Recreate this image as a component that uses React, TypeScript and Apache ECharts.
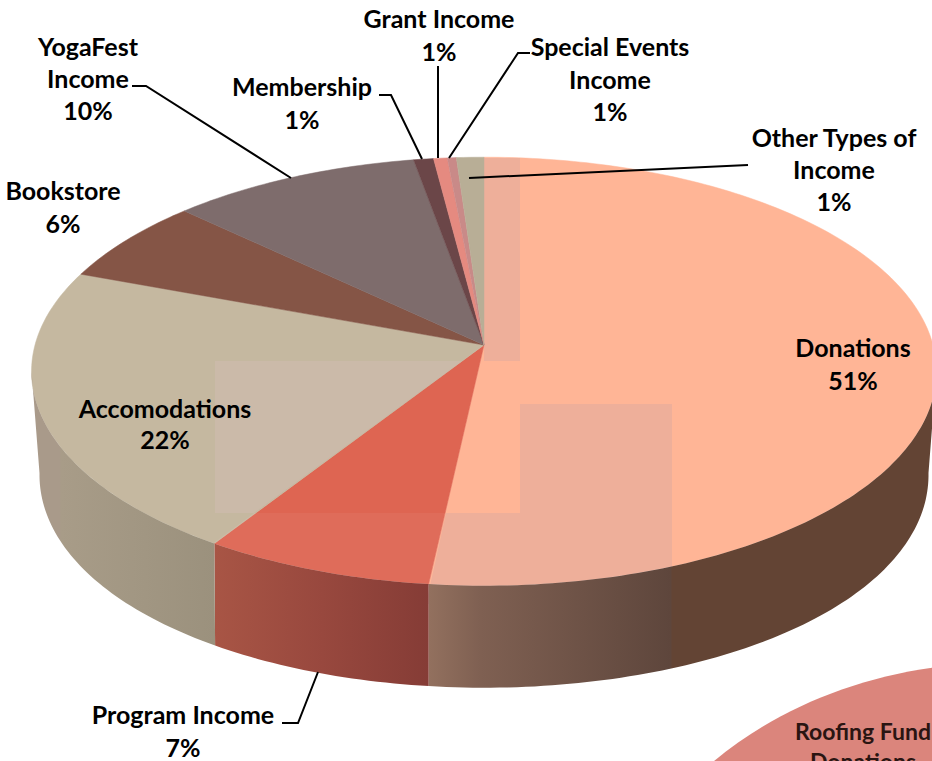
import React, { useEffect, useRef } from "react";
import * as echarts from "echarts";

const categories = ["Donations", "Program Income", "Accomodations", "Bookstore", "YogaFest Income", "Membership", "Grant Income", "Special Events Income", "Other Types of Income"];
const values = [51.6, 7.3, 21.6, 6.4, 10.05, 0.8, 0.55, 0.36, 1.1];
const percentLabels = ["51%", "7%", "22%", "6%", "10%", "1%", "1%", "1%", "1%"];
const topColors = ["#ffb596", "#de6552", "#c5b8a0", "#855546", "#7e6c6c", "#6b4648", "#e58a80", "#c98a88", "#b8ae96"];
const secondPieLabel = ["Roofing Fund", "Donations"];

const CX = 484, CY = 345, A = 211, B = 449, K = -0.1235;
const DEPTH = 102, BOTTOM_SHRINK = 0.018;
const WALL_FROM = 97, WALL_TO = 263;
const total = values.reduce((s, v) => s + v, 0);

function project(deg: number, depth = 0): number[] {
  const r = (deg * Math.PI) / 180;
  const u = Math.sin(r), v = -Math.cos(r);
  const d = 1 + K * v;
  const s = depth ? 1 - BOTTOM_SHRINK * Math.abs(u * u * u) : 1;
  return [CX + (B * s * u) / d, CY + (A * v) / d + depth];
}
function span(i: number): number[] {
  const a0 = (values.slice(0, i).reduce((s, v) => s + v, 0) / total) * 360;
  return [a0, a0 + (values[i] / total) * 360];
}
function arc(a0: number, a1: number, depth = 0): number[][] {
  const n = Math.max(2, Math.ceil(a1 - a0));
  const pts: number[][] = [];
  for (let j = 0; j <= n; j++) pts.push(project(a0 + ((a1 - a0) * j) / n, depth));
  return pts;
}
function linear(x0: number, x1: number, stops: [number, string][]) {
  return { type: "linear", x: x0, y: 0, x2: x1, y2: 0, global: true, colorStops: stops.map(([offset, color]) => ({ offset, color })) };
}
const wallFills: Record<number, any> = {
  0: linear(430, 932, [[0, "#92705e"], [0.1, "#7f6052"], [0.48, "#5e463c"], [0.482, "#634434"], [1, "#634434"]]),
  1: linear(215, 430, [[0, "#a85545"], [0.5, "#98483e"], [1, "#853c36"]]),
  2: linear(32, 215, [[0, "#a99a8a"], [0.15, "#a99a8a"], [0.16, "#a89c88"], [1, "#9b917d"]]),
};

const labelFont = "Lato";
function labelLines(name: string, x: number, ys: number[], split?: string[]) {
  const lines = split ?? [name];
  const idx = categories.indexOf(name);
  return [...lines, percentLabels[idx]].map((t, i) => ({
    type: "text", z: 30, x, y: ys[i] - 1,
    style: { text: t, fill: "#000", font: `bold 25px ${labelFont}`, textAlign: "center", textVerticalAlign: "middle" },
  }));
}
const leaders: number[][][] = [
  [[282, 723], [298, 723], [318, 672]],
  [[132, 86], [146, 86], [291, 178]],
  [[379, 95], [391, 95], [422, 159]],
  [[438, 66], [438, 158]],
  [[530, 53], [518, 53], [449, 158]],
  [[469, 178], [748, 165]],
];
const patches: [number[][], string][] = [
  [[[215, 361], [462, 361], [254, 513], [215, 513]], "rgba(215,190,185,0.35)"],
  [[[484, 158], [520, 158], [520, 361], [484, 361]], "rgba(187,161,166,0.25)"],
  [[[520, 404], [672, 404], [672, 604], [520, 604]], "rgba(187,161,166,0.25)"],
  [[[446, 513], [520, 513], [520, 604], [426, 604]], "rgba(187,161,166,0.25)"],
  [[[254, 513], [446, 513], [426, 604], [213, 604], [213, 543]], "rgba(255,255,255,0.05)"],
];

export default function App() {
  const ref = useRef<HTMLDivElement>(null);
  useEffect(() => {
    document.body.style.margin = "0";
    const chart = echarts.init(ref.current!, undefined, { renderer: "svg" });
    chart.setOption({
      animation: false,
      backgroundColor: "#fff",
      series: [
        {
          type: "custom", coordinateSystem: "none", z: 1, silent: true,
          data: values,
          renderItem: (p: any) => {
            const [a0, a1] = span(p.dataIndex);
            return { type: "polygon", shape: { points: [[CX, CY], ...arc(a0, a1)] }, style: { fill: topColors[p.dataIndex], stroke: topColors[p.dataIndex], lineWidth: 0.5 } };
          },
        },
        {
          type: "custom", coordinateSystem: "none", z: 10, silent: true,
          data: values,
          renderItem: (p: any) => {
            const fill = wallFills[p.dataIndex];
            if (!fill) return null;
            const [s0, s1] = span(p.dataIndex);
            const a0 = Math.max(s0, WALL_FROM), a1 = Math.min(s1, WALL_TO);
            const pts = [...arc(a0, a1), ...arc(a0, a1, DEPTH).reverse()];
            return { type: "polygon", shape: { points: pts }, style: { fill } };
          },
        },
      ],
      graphic: { elements: [
        { type: "ellipse", z: 0, shape: { cx: 1000, cy: 989, rx: 400, ry: 326 }, style: { fill: "#db857c" } },
        ...patches.map(([points, fill]) => ({ type: "polygon", z: 5, shape: { points }, style: { fill } })),
        ...leaders.map((points) => ({ type: "polyline", z: 25, shape: { points }, style: { stroke: "#000", lineWidth: 2, fill: "none" } })),
        ...labelLines("Donations", 853, [348, 381]),
        ...labelLines("Accomodations", 165, [409, 440]),
        ...labelLines("Program Income", 183, [715, 748]),
        ...labelLines("Bookstore", 63, [191, 224]),
        ...labelLines("YogaFest Income", 88, [47, 79, 111], ["YogaFest", "Income"]),
        ...labelLines("Membership", 302, [87, 120]),
        ...labelLines("Grant Income", 439, [19, 52]),
        ...labelLines("Special Events Income", 610, [47, 80, 112], ["Special Events", "Income"]),
        ...labelLines("Other Types of Income", 834, [138, 170, 202], ["Other Types of", "Income"]),
        ...secondPieLabel.map((t, i) => ({ type: "text", z: 30, x: 863, y: 731 + i * 30, style: { text: t, fill: "#2a1512", font: `bold 23px ${labelFont}`, textAlign: "center", textVerticalAlign: "middle" } })),
      ] },
    });
    return () => chart.dispose();
  }, []);
  return <div ref={ref} style={{ width: 932, height: 761, overflow: "hidden" }} />;
}
